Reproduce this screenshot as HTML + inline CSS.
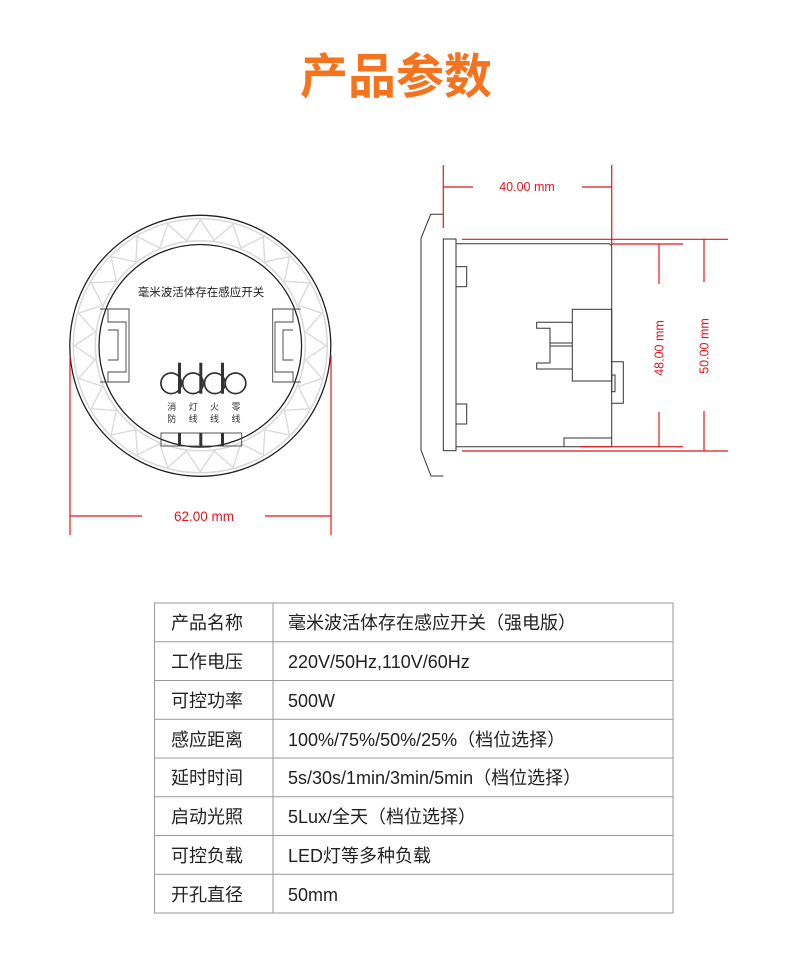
<!DOCTYPE html>
<html><head><meta charset="utf-8"><style>
html,body{margin:0;padding:0;background:#fff;width:790px;height:971px;overflow:hidden}
svg{position:absolute;left:0;top:0}
.t{font-family:"Liberation Sans","Noto Sans CJK SC",sans-serif}
</style></head><body>
<svg width="790" height="971" viewBox="0 0 790 971" xmlns="http://www.w3.org/2000/svg">
<text x="396" y="93" text-anchor="middle" class="t" font-size="48" font-weight="bold" fill="#f5731e">产品参数</text>

<g id="ring">
<circle cx="200.3" cy="345.8" r="127" fill="none" stroke="#d8d8d8" stroke-width="1.5"/>
<circle cx="200.3" cy="345.8" r="105" fill="none" stroke="#d8d8d8" stroke-width="1.5"/>
<polyline id="zz" fill="none" stroke="#d8d8d8" stroke-width="1.3" points=""/>
</g>
<circle cx="200.3" cy="345.8" r="130.5" fill="none" stroke="#222" stroke-width="1.3"/>
<circle cx="200.3" cy="345.8" r="101.3" fill="#fff" stroke="#222" stroke-width="1.3"/>
<text x="201" y="296" text-anchor="middle" class="t" font-size="11.5" fill="#222">毫米波活体存在感应开关</text>
<g fill="none" stroke="#444" stroke-width="0.9">
<path d="M100,309 H129 V382 H100"/>
<path d="M108,309 V322 H126 V372 H108 V382"/>
<path d="M108,330 H118 V360 H108"/>
<path d="M300.7,309 H272.7 V382 H300.7"/>
<path d="M293,309 V322 H275 V372 H293 V382"/>
<path d="M293,330 H283 V360 H293"/>
</g>
<g fill="none" stroke="#333" stroke-width="1.7">
<circle cx="171.2" cy="383.3" r="10.3"/>
<circle cx="193" cy="383.3" r="10.3"/>
<circle cx="214.8" cy="383.3" r="10.3"/>
<circle cx="235.5" cy="383.3" r="10.3"/>
</g>
<g fill="#333">
<rect x="178" y="362.7" width="3" height="31"/>
<rect x="199.3" y="362.7" width="3" height="31"/>
<rect x="221" y="362.7" width="3" height="31"/>
</g>
<g class="t" font-size="9" fill="#333" text-anchor="middle">
<text x="171.7" y="410">消</text><text x="171.7" y="422">防</text>
<text x="193.3" y="410">灯</text><text x="193.3" y="422">线</text>
<text x="214.5" y="410">火</text><text x="214.5" y="422">线</text>
<text x="236" y="410">零</text><text x="236" y="422">线</text>
</g>
<rect x="161" y="433" width="80.7" height="13" fill="none" stroke="#444" stroke-width="0.9"/>
<g fill="#333"><rect x="178" y="433" width="3" height="13"/><rect x="199.3" y="433" width="3" height="13"/><rect x="221" y="433" width="3" height="13"/></g>

<g stroke="#e8141c" stroke-width="1.2">
<line x1="70" y1="355" x2="70" y2="535"/><line x1="331" y1="355" x2="331" y2="535"/>
<line x1="70" y1="516" x2="142" y2="516"/><line x1="265" y1="516" x2="331" y2="516"/>
</g>
<text x="204" y="521" text-anchor="middle" class="t" font-size="13.5" fill="#e8141c">62.00 mm</text>

<g fill="none" stroke="#333" stroke-width="1">
<path d="M443.3,214.3 H430.7 L421,238.3 V450 L431,476 H443.3"/>
<rect x="443.3" y="239" width="12.7" height="211.7" fill="#fff"/>
<path d="M456,243.7 H609.5 L611.7,246 V446.7 H456"/>
<rect x="456" y="266.7" width="10.7" height="20"/>
<rect x="456" y="404" width="10.7" height="20"/>
<rect x="572.3" y="309.3" width="39.4" height="71.7"/>
<path d="M572.3,322.3 H536.7 V328.3 H550 V363 H536.7 V369 H572.3"/>
<line x1="550" y1="343" x2="572.3" y2="343"/><line x1="550" y1="346" x2="572.3" y2="346"/>
<path d="M611.7,361.7 H623.3 V403.3 H611.7"/>
<rect x="611.7" y="375" width="3.3" height="16.7"/>
<path d="M564,446.7 V438 H611.7"/>
</g>
<g stroke="#e8141c" stroke-width="1.2">
<line x1="443.3" y1="165" x2="443.3" y2="228"/><line x1="611.7" y1="165" x2="611.7" y2="245"/>
<line x1="443.3" y1="187" x2="473" y2="187"/><line x1="582" y1="187" x2="611.7" y2="187"/>
<line x1="462" y1="239.3" x2="728" y2="239.3"/><line x1="612" y1="244" x2="683" y2="244"/>
<line x1="462" y1="451" x2="728" y2="451"/><line x1="580" y1="446.7" x2="683" y2="446.7"/>
<line x1="659" y1="244" x2="659" y2="284"/><line x1="659" y1="412" x2="659" y2="446.7"/>
<line x1="704" y1="239.3" x2="704" y2="282"/><line x1="704" y1="411" x2="704" y2="451"/>
</g>
<text x="527" y="191" text-anchor="middle" class="t" font-size="12.5" fill="#e8141c">40.00 mm</text>
<text transform="translate(663.5,348) rotate(-90)" text-anchor="middle" class="t" font-size="12.5" fill="#e8141c">48.00 mm</text>
<text transform="translate(708.5,346) rotate(-90)" text-anchor="middle" class="t" font-size="12.5" fill="#e8141c">50.00 mm</text>

<g stroke="#999" stroke-width="1" fill="none">
<rect x="154.5" y="603" width="518.5" height="310"/>
<line x1="273" y1="603" x2="273" y2="913"/>
<line x1="154.5" y1="641.75" x2="673" y2="641.75"/>
<line x1="154.5" y1="680.5" x2="673" y2="680.5"/>
<line x1="154.5" y1="719.25" x2="673" y2="719.25"/>
<line x1="154.5" y1="758" x2="673" y2="758"/>
<line x1="154.5" y1="796.75" x2="673" y2="796.75"/>
<line x1="154.5" y1="835.5" x2="673" y2="835.5"/>
<line x1="154.5" y1="874.25" x2="673" y2="874.25"/>
</g>
<g class="t" font-size="18" fill="#222">
<text x="171" y="629">产品名称</text><text x="288" y="629">毫米波活体存在感应开关（强电版）</text>
<text x="171" y="668">工作电压</text><text x="288" y="668">220V/50Hz,110V/60Hz</text>
<text x="171" y="707">可控功率</text><text x="288" y="707">500W</text>
<text x="171" y="746">感应距离</text><text x="288" y="746">100%/75%/50%/25%（档位选择）</text>
<text x="171" y="784">延时时间</text><text x="288" y="784">5s/30s/1min/3min/5min（档位选择）</text>
<text x="171" y="823">启动光照</text><text x="288" y="823">5Lux/全天（档位选择）</text>
<text x="171" y="862">可控负载</text><text x="288" y="862">LED灯等多种负载</text>
<text x="171" y="901">开孔直径</text><text x="288" y="901">50mm</text>
</g>
</svg>
<script>
(function(){var cx=200.3,cy=345.8,n=24,p=[];for(var i=0;i<=n*2;i++){var a=i*Math.PI/n;var r=(i%2)?106:126;p.push((cx+r*Math.cos(a)).toFixed(1)+","+(cy+r*Math.sin(a)).toFixed(1));}
document.getElementById("zz").setAttribute("points",p.join(" "));})();
</script>
</body></html>
